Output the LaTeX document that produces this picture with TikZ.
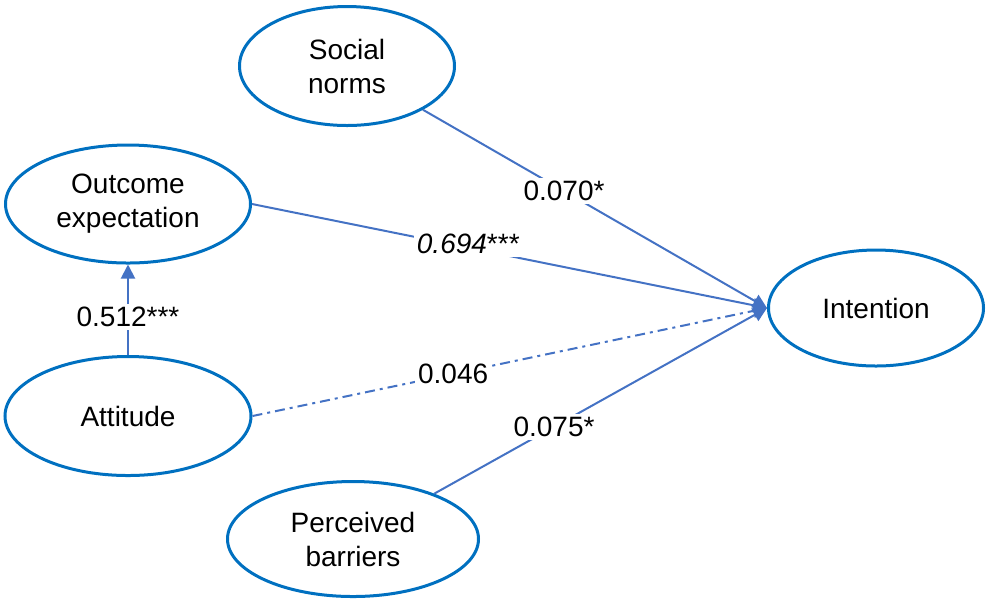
\documentclass[tikz,border=0pt]{standalone}
\usepackage{fontspec}
\setmainfont{Liberation Sans}
\usetikzlibrary{arrows.meta,shapes.geometric,positioning}

\definecolor{ellblue}{HTML}{0070C0}
\definecolor{pathblue}{HTML}{4472C4}

\begin{document}
\begin{tikzpicture}[x = .5pt, y = -.5pt,
  every node/.style = {font=\fontsize{14}{17}\selectfont},
  construct/.style = {ellipse, draw=ellblue, line width=1.5pt, align=center, inner sep=0pt},
  path/.style = {draw=pathblue, line width=1pt, -{Triangle[length=7pt,width=7pt]}},
  coef/.style = {fill=white, inner sep=1.5pt}]
\useasboundingbox (0,0) rectangle (989,607);
\node[construct, minimum width=107.5pt, minimum height=59.5pt] (social) at (347,66) {Social\\norms};
\node[construct, minimum width=122.5pt, minimum height=59pt] (outcome) at (128,204) {Outcome\\expectation};
\node[construct, minimum width=123pt, minimum height=59.5pt] (attitude) at (128,416) {Attitude};
\node[construct, minimum width=125.5pt, minimum height=57.5pt] (barriers) at (353,539) {Perceived\\barriers};
\node[construct, minimum width=107.5pt, minimum height=58pt] (intention) at (876,308) {Intention};
% Paths into intention
\draw[path] (social) -- node[coef, pos=.41] {0.070*} (intention.west);
\draw[path] (outcome.east) -- node[coef, pos=.42, yshift=2pt] {\textit{0.694}***} (intention.west);
\draw[path, dash pattern=on 5pt off 2.5pt on 1.5pt off 2.5pt] (attitude.east) -- node[coef, pos=.39] {0.046} (intention.west);
\draw[path] (barriers) -- node[coef, pos=.36] {0.075*} (intention.west);
\draw[path] (attitude) -- node[coef, pos=.42] {0.512***} (outcome);
\end{tikzpicture}
\end{document}
